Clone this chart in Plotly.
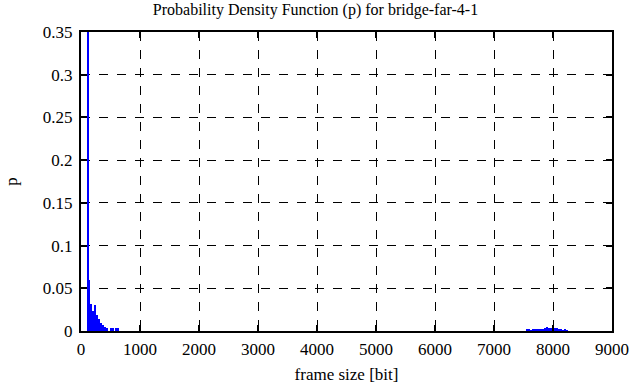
import plotly.graph_objects as go

# frame sizes (bin centers, bits) and probabilities
left_x = [112, 138, 163, 197, 231, 265, 299, 333, 367, 401, 435, 500, 534, 585, 619]
left_p = [0.45, 0.06, 0.032, 0.023, 0.031, 0.019, 0.0145, 0.0098, 0.007, 0.005, 0.003, 0.003, 0.003, 0.003, 0.003]

right_x = [7560, 7594, 7628, 7662, 7696, 7730, 7764, 7798, 7832, 7866, 7900,
           7934, 7968, 8002, 8036, 8070, 8104, 8138, 8172, 8206, 8240]
right_p = [0.002, 0.002, 0.0005, 0.0015, 0.002, 0.002, 0.0025, 0.002, 0.0025, 0.003, 0.0045,
           0.003, 0.004, 0.006, 0.004, 0.003, 0.002, 0.002, 0.001, 0.002, 0.0005]

bin_width = 34
x_ticks = [0, 1000, 2000, 3000, 4000, 5000, 6000, 7000, 8000, 9000]
y_ticks = [0, 0.05, 0.1, 0.15, 0.2, 0.25, 0.3, 0.35]
y_tick_text = ["0", "0.05", "0.1", "0.15", "0.2", "0.25", "0.3", "0.35"]

fig = go.Figure()
fig.add_trace(go.Bar(x=left_x + right_x, y=left_p + right_p, width=bin_width,
                     marker=dict(color="#0000ff", line=dict(width=0)), showlegend=False,
                     hoverinfo="skip"))

font = "Liberation Serif"
axis_common = dict(showline=True, linecolor="black", linewidth=2, mirror="ticks",
                   ticks="inside", ticklen=6, tickwidth=2, tickcolor="black",
                   showgrid=True, gridcolor="black", gridwidth=1, griddash="dash",
                   zeroline=False, automargin=False,
                   tickfont=dict(family=font, size=17, color="black"))

fig.update_layout(
    width=631, height=387,
    margin=dict(l=81, r=19, t=32, b=56),
    paper_bgcolor="white", plot_bgcolor="white",
    font=dict(family=font, size=17, color="black"),
    title=dict(text="Probability Density Function (p) for bridge-far-4-1",
               x=0.5, xanchor="center", y=0.975, yanchor="middle",
               font=dict(family=font, size=16, color="black")),
    bargap=0,
    xaxis=dict(range=[0, 9000], tickvals=x_ticks, ticktext=[str(v) for v in x_ticks],
               ticklabelstandoff=2,
               title=dict(text="frame size [bit]", font=dict(family=font, size=17, color="black"), standoff=10),
               **axis_common),
    yaxis=dict(range=[0, 0.35], tickvals=y_ticks, ticktext=y_tick_text,
               ticklabelstandoff=3,
               title=dict(text="p", font=dict(family=font, size=17, color="black"), standoff=21),
               **axis_common),
)

fig.write_html("out.html", config={"displayModeBar": False},
               post_script="document.body.style.margin='0';")
